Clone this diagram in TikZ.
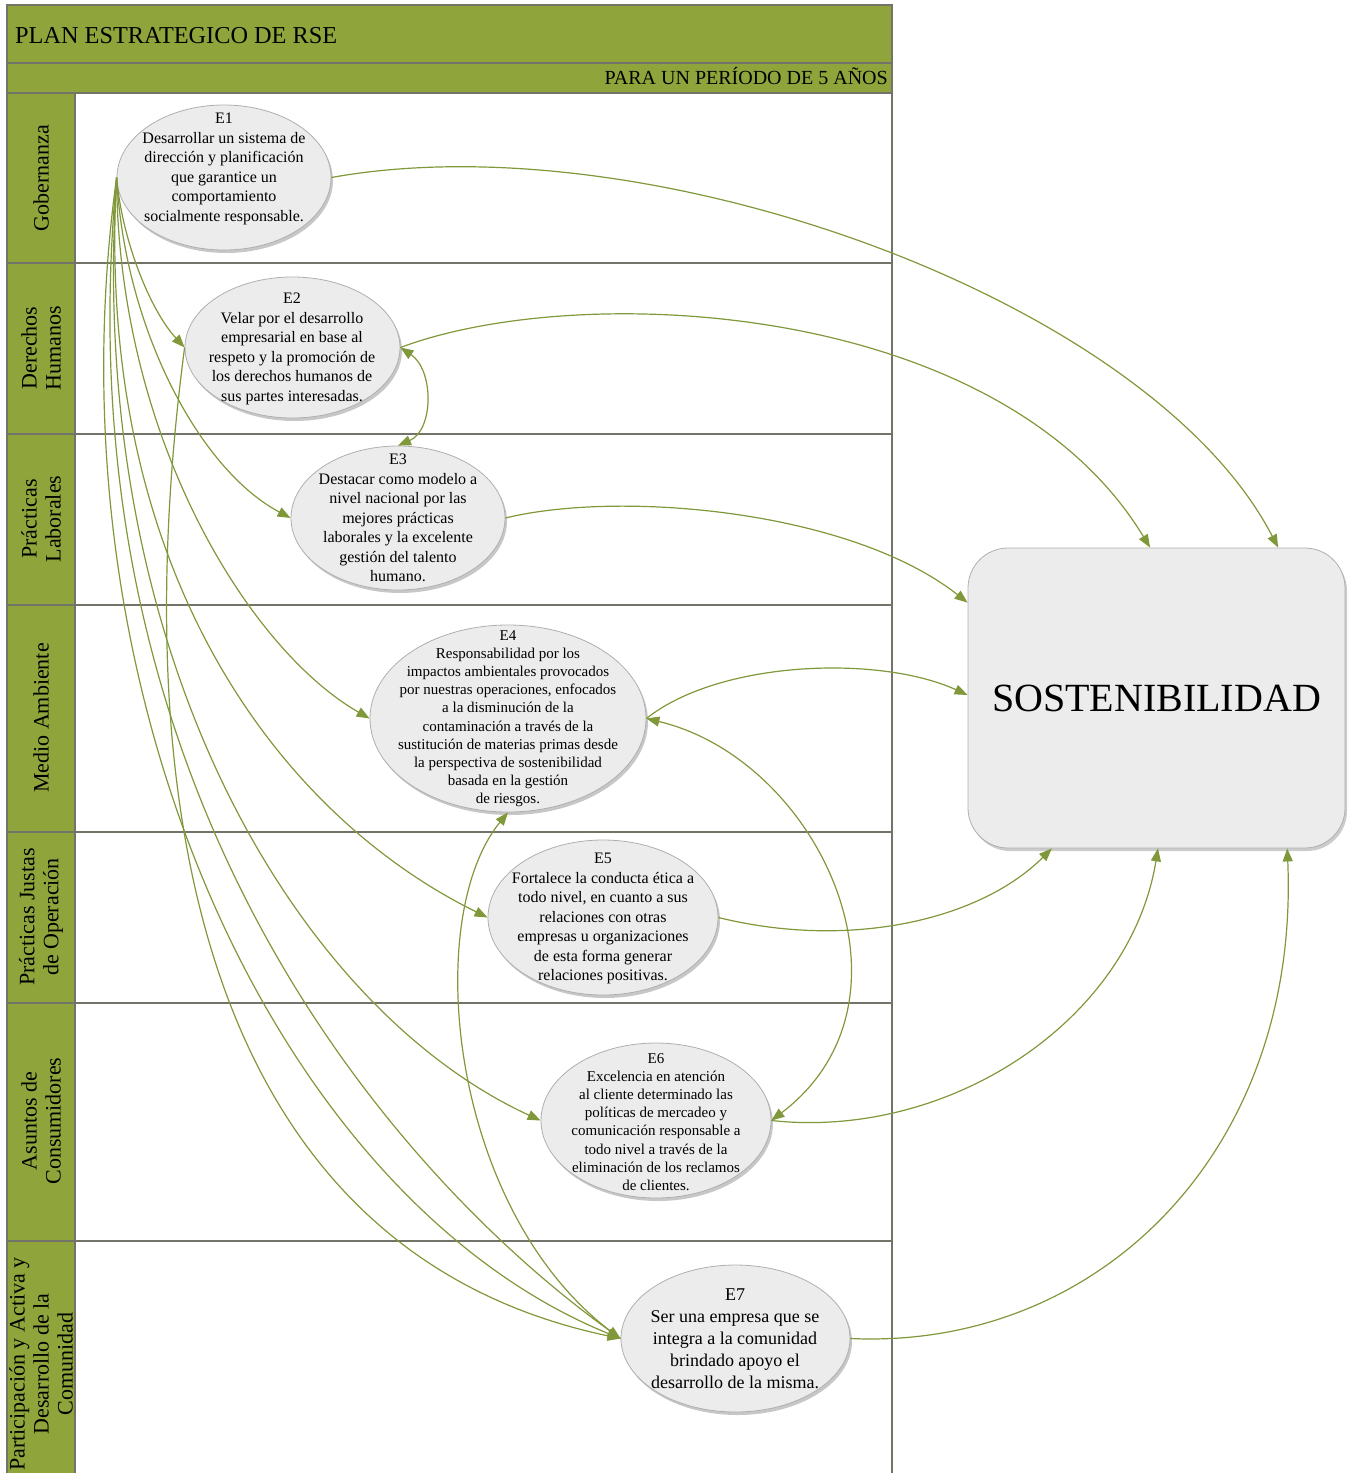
\documentclass[tikz,border=0pt]{standalone}
\usepackage{fontspec}
\setmainfont{Liberation Serif}
\usetikzlibrary{arrows.meta,shapes.geometric,shadows,calc}
\definecolor{hdrgreen}{RGB}{143,165,60}
\definecolor{lnkgreen}{RGB}{128,152,58}
\definecolor{framegray}{RGB}{115,115,105}
\definecolor{ellfill}{RGB}{236,236,236}
\definecolor{ellline}{RGB}{175,175,175}
\begin{document}
\begin{tikzpicture}[x=1pt,y=-1pt,
  lnk/.style={draw=lnkgreen, line width=1.2pt, -{Triangle[length=13pt,width=10pt]}},
  lnkboth/.style={draw=lnkgreen, line width=1.2pt, {Triangle[length=13pt,width=10pt]}-{Triangle[length=13pt,width=10pt]}},
  ell/.style={ellipse, draw=ellline, line width=0.8pt, fill=ellfill, inner sep=0pt,
    drop shadow={shadow xshift=2pt, shadow yshift=-3pt, fill=black, opacity=0.22}},
  etxt/.style={align=center, inner sep=0pt, anchor=north},
  fA/.style={font=\fontsize{16}{19.5}\selectfont},
  fB/.style={font=\fontsize{15}{18.2}\selectfont},
  fC/.style={font=\fontsize{18}{22}\selectfont},
  lanelbl/.style={rotate=90, align=center, inner sep=0pt, font=\fontsize{22}{24}\selectfont},
  laneline/.style={draw=framegray, line width=1.6pt},
]
\useasboundingbox (0,0) rectangle (1352,1473);

% ---------- pool background ----------
\fill[hdrgreen] (7,5) rectangle (892,93);
\fill[hdrgreen] (7,93) rectangle (75,1476);
\draw[laneline] (7,63) -- (892,63);
\draw[laneline] (7,93) -- (892,93);
\foreach \yy in {263,434,605,832,1003,1241}{
  \draw[laneline] (7,\yy) -- (892,\yy);
}
\draw[laneline] (75,93) -- (75,1476);
\draw[laneline] (7,5) rectangle (892,1476);

\node[anchor=base west, inner sep=0pt, font=\fontsize{24.3}{28}\selectfont] (title) at (15,43) {PLAN ESTRATEGICO DE RSE};
\node[anchor=base east, inner sep=0pt, font=\fontsize{20}{24}\selectfont] (period) at (888,84) {PARA UN PERÍODO DE 5 AÑOS};

% ---------- lane labels ----------
\node[lanelbl] (L1) at (41,178) {Gobernanza};
\node[lanelbl] (L2) at (41,348) {Derechos\\Humanos};
\node[lanelbl] (L3) at (41,519) {Prácticas\\Laborales};
\node[lanelbl] (L4) at (41,718) {Medio Ambiente};
\node[lanelbl] (L5) at (41,917) {Prácticas Justas\\de Operación};
\node[lanelbl] (L6) at (41,1121) {Asuntos de\\Consumidores};
\node[lanelbl] (L7) at (41,1364) {Participación y Activa y\\Desarrollo de la\\Comunidad};

% ---------- ellipses ----------
\node[ell, minimum width=214pt, minimum height=145pt] (E1) at (224,177.5) {};
\node[ell, minimum width=215pt, minimum height=141pt] (E2) at (292.5,347.5) {};
\node[ell, minimum width=214pt, minimum height=144pt] (E3) at (398,518) {};
\node[ell, minimum width=276pt, minimum height=187pt] (E4) at (508,718.5) {};
\node[ell, minimum width=230pt, minimum height=155pt] (E5) at (603,917.5) {};
\node[ell, minimum width=230pt, minimum height=155pt] (E6) at (656,1120.5) {};
\node[ell, minimum width=229pt, minimum height=147pt] (E7) at (735.5,1338.5) {};

\node[etxt, fA] (E1t) at (224,113) {E1\\Desarrollar un sistema de\\dirección y planificación\\que garantice un\\comportamiento\\socialmente responsable.};
\node[etxt, fA] (E2t) at (292,293) {E2\\Velar por el desarrollo\\empresarial en base al\\respeto y la promoción de\\los derechos humanos de\\sus partes interesadas.};
\node[etxt, fA] (E3t) at (398,454) {E3\\Destacar como modelo a\\nivel nacional por las\\mejores prácticas\\laborales y la excelente\\gestión del talento\\humano.};
\node[etxt, fB] (E4t) at (508,630) {E4\\Responsabilidad por los\\impactos ambientales provocados\\por nuestras operaciones, enfocados\\a la disminución de la\\contaminación a través de la\\sustitución de materias primas desde\\la perspectiva de sostenibilidad\\basada en la gestión\\de riesgos.};
\node[etxt, fA] (E5t) at (603,853) {E5\\Fortalece la conducta ética a\\todo nivel, en cuanto a sus\\relaciones con otras\\empresas u organizaciones\\de esta forma generar\\relaciones positivas.};
\node[etxt, fB] (E6t) at (656,1053) {E6\\Excelencia en atención\\al cliente determinado las\\políticas de mercadeo y\\comunicación responsable a\\todo nivel a través de la\\eliminación de los reclamos\\de clientes.};
\node[etxt, fC] (E7t) at (735,1288) {E7\\Ser una empresa que se\\integra a la comunidad\\brindado apoyo el\\desarrollo de la misma.};

% ---------- SOSTENIBILIDAD ----------
\node[draw=ellline, line width=0.8pt, fill=ellfill, rounded corners=40pt,
      minimum width=377pt, minimum height=300pt, inner sep=0pt,
      drop shadow={shadow xshift=2pt, shadow yshift=-3pt, fill=black, opacity=0.2},
      font=\fontsize{40}{44}\selectfont] (SO) at (1156.5,698) {SOSTENIBILIDAD};

\coordinate (SOt1) at ($(SO.north west)!0.483!(SO.north east)$);
\coordinate (SOt2) at ($(SO.north west)!0.822!(SO.north east)$);
\coordinate (SOl1) at ($(SO.north west)!0.183!(SO.south west)$);
\coordinate (SOl2) at ($(SO.north west)!0.49!(SO.south west)$);
\coordinate (SOb1) at ($(SO.south west)!0.223!(SO.south east)$);
\coordinate (SOb2) at ($(SO.south west)!0.504!(SO.south east)$);
\coordinate (SOb3) at ($(SO.south west)!0.846!(SO.south east)$);

% ---------- connectors: fan from E1 ----------
\draw[lnk] (E1.west) .. controls (122,240) and (150,310) .. (E2.west);
\draw[lnk] (E1.west) .. controls (125,330) and (200,470) .. (E3.west);
\draw[lnk] (E1.west) .. controls (118,440) and (250,650) .. (E4.west);
\draw[lnk] (E1.west) .. controls (95,560) and (270,810) .. (E5.west);
\draw[lnk] (E1.west) .. controls (85,660) and (300,1010) .. (E6.west);
\draw[lnk] (E1.west) .. controls (45,700) and (280,1200) .. (E7.west);
\draw[lnk] (E1.west) .. controls (58,800) and (400,1180) .. (E7.west);

% E2 -> E7
\draw[lnk] (E2.west) .. controls (125,800) and (200,1250) .. (E7.west);
% E7 -> E4
\draw[lnk] (E7.west) .. controls (450,1220) and (420,920) .. (E4.south);
% E4 <-> E6
\draw[lnkboth] (E4.east) .. controls (820,760) and (930,1000) .. (E6.east);
% E2 <-> E3
\draw[lnkboth] (E3.north) .. controls (434,430) and (434,370) .. (E2.east);

% ---------- connectors to SOSTENIBILIDAD ----------
\draw[lnk] (E1.east) .. controls (650,120) and (1150,300) .. (SOt2);
\draw[lnk] (E2.east) .. controls (580,280) and (1000,300) .. (SOt1);
\draw[lnk] (E3.east) .. controls (620,490) and (850,510) .. (SOl1);
\draw[lnk] (E4.east) .. controls (720,660) and (880,655) .. (SOl2);
\draw[lnk] (E5.east) .. controls (850,950) and (980,920) .. (SOb1);
\draw[lnk] (E6.east) .. controls (950,1140) and (1130,1020) .. (SOb2);
\draw[lnk] (E7.east) .. controls (1100,1350) and (1300,1150) .. (SOb3);
\end{tikzpicture}
\end{document}
